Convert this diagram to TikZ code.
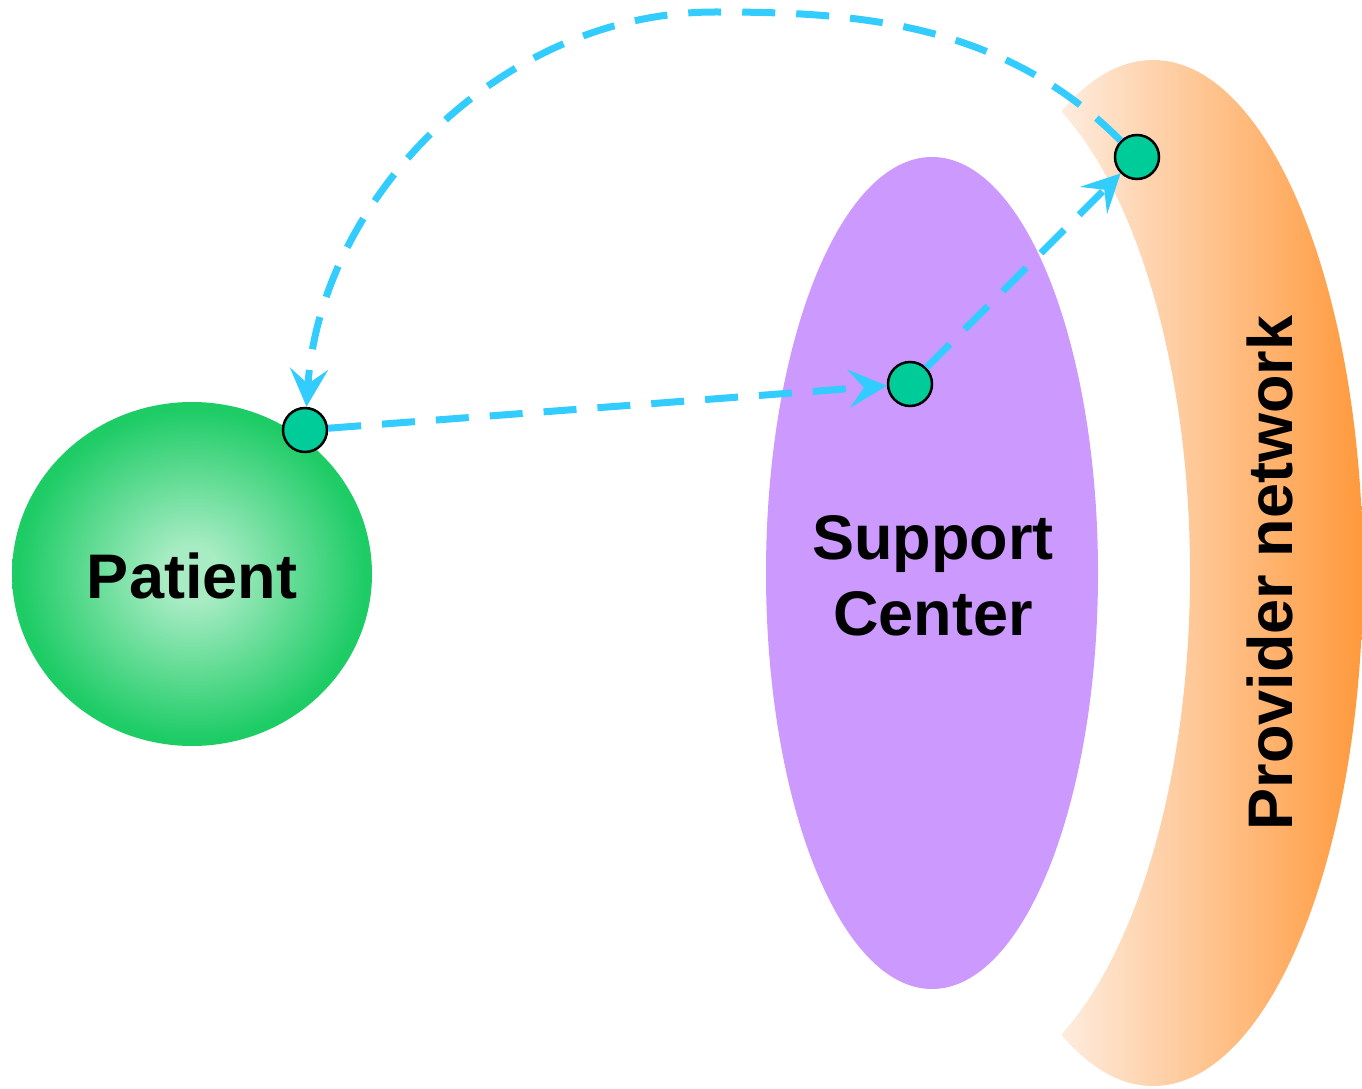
\documentclass[tikz,border=0pt]{standalone}
\usepackage{fontspec}
\setmainfont{Liberation Sans}
\usetikzlibrary{arrows.meta}
\definecolor{dotc}{RGB}{0,204,153}
\definecolor{flow}{RGB}{51,204,255}
\definecolor{supc}{RGB}{204,153,255}
\definecolor{pin}{RGB}{168,236,196}
\definecolor{pout}{RGB}{30,204,102}
\definecolor{provl}{RGB}{254,236,222}
\definecolor{provr}{RGB}{255,153,60}
\pgfdeclareradialshading{patshade}{\pgfpointorigin}{color(0bp)=(pin); color(4bp)=(pin); color(24bp)=(pout); color(50bp)=(pout)}
\begin{document}
\begin{tikzpicture}[x=1pt,y=-1pt,
 dotn/.style={circle,draw=black,line width=2.5pt,fill=dotc,minimum size=44pt,inner sep=0pt},
 flowline/.style={draw=flow,line width=7pt,dash pattern=on 33pt off 21pt,-{Stealth[length=38pt,width=38pt,inset=15pt]}},
 lbl/.style={font=\fontsize{63}{76}\selectfont\bfseries,align=center}]
\useasboundingbox (0,0) rectangle (1362,1089);
% provider network crescent
\begin{scope}
\clip (1153,573) ellipse [x radius=210, y radius=513];
\begin{scope}[even odd rule]
\clip (1000,40) rectangle (1400,1100) (960,573) ellipse [x radius=230, y radius=514];
\shade[left color=provl,right color=provr] (1062,50) rectangle (1363,1095);
\end{scope}
\end{scope}
% support center
\fill[supc] (932,573) ellipse [x radius=166, y radius=416];
% patient
\shade[shading=patshade] (192,574) ellipse [x radius=180, y radius=172];
% labels
\node[lbl] (patient) at (192,576) {Patient};
\node[lbl] (support) at (933,576) {Support\\Center};
\node[lbl,rotate=90] (prov) at (1270,573) {Provider network};
% dots
\node[dotn] (a) at (305,430) {};
\node[dotn] (s) at (910,384) {};
\node[dotn] (p) at (1137,157) {};
% flows
\draw[flowline] (a) -- (s);
\draw[flowline] (s) -- (p);
\draw[flowline] (p) .. controls (1000,20) and (850,12) .. (715,12) .. controls (500,12) and (320,200) .. (a);
\end{tikzpicture}
\end{document}
